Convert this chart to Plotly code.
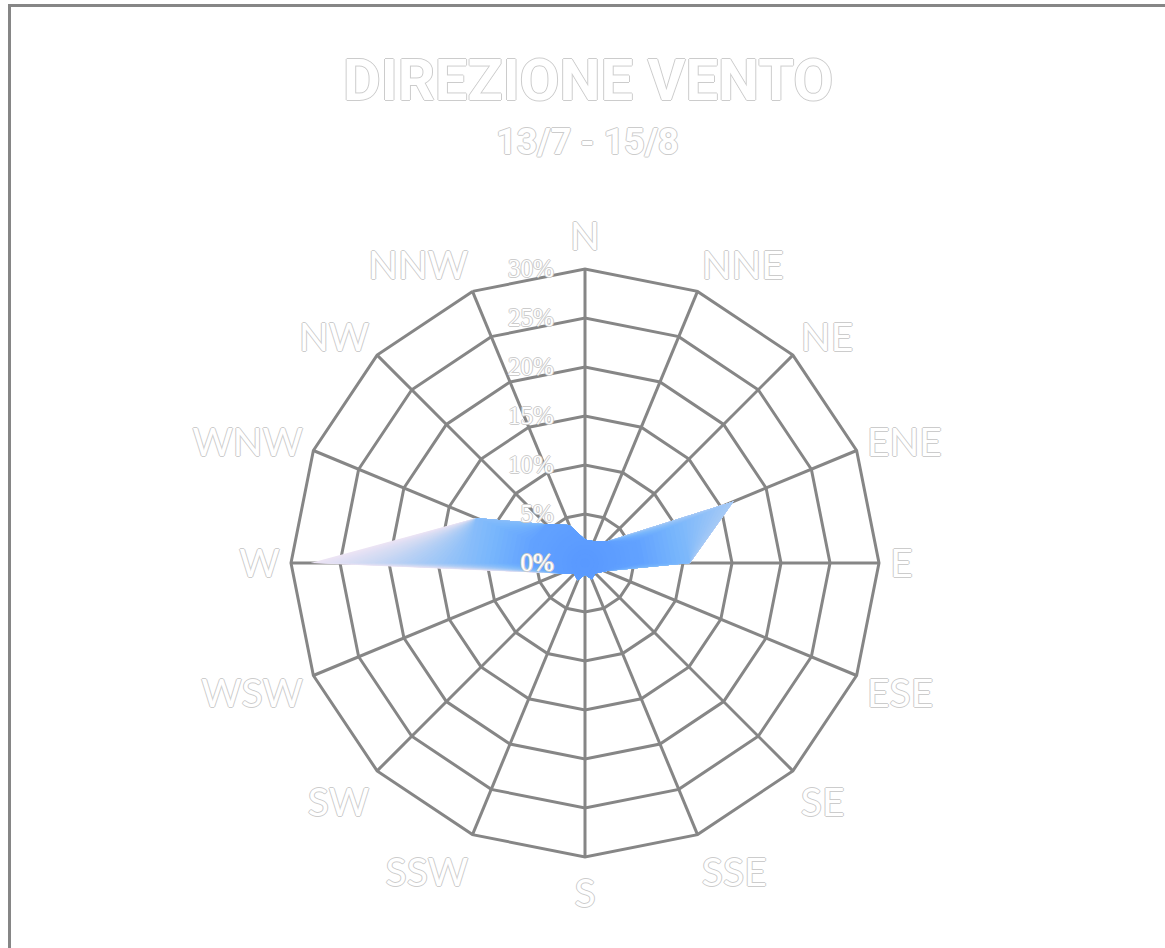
import plotly.graph_objects as go

# ---- data ----
directions = ["N", "NNE", "NE", "ENE", "E", "ESE", "SE", "SSE",
              "S", "SSW", "SW", "WSW", "W", "WNW", "NW", "NNW"]
frequency_pct = [2.4, 2.4, 3.1, 16.4, 10.7, 2.2, 1.5, 1.8,
                 1.2, 1.9, 1.6, 2.8, 28.0, 12.0, 5.6, 4.2]
radial_ticks = [0, 5, 10, 15, 20, 25, 30]
radial_ticklabels = ["0%", "5%", "10%", "15%", "20%", "25%", "30%"]
title_text = "DIREZIONE VENTO"
subtitle_text = "13/7 - 15/8"

GRID = "#868686"
OUTLINE = "-1px 0 #cccccc, 1px 0 #cccccc, 0 -1px #cccccc, 0 1px #cccccc"

# gradient colour stops by radius (in % units), rendered as stacked fills
stops = [(0.0, (88, 152, 255)), (6.0, (98, 162, 255)), (10.0, (120, 182, 252)),
         (16.0, (162, 200, 246)), (22.0, (204, 216, 243)), (28.0, (236, 228, 244))]


def colour_at(t):
    for (t0, c0), (t1, c1) in zip(stops[:-1], stops[1:]):
        if t <= t1:
            f = (t - t0) / (t1 - t0)
            c = [round(a + (b - a) * f) for a, b in zip(c0, c1)]
            return f"rgb({c[0]},{c[1]},{c[2]})"
    c = stops[-1][1]
    return f"rgb({c[0]},{c[1]},{c[2]})"


fig = go.Figure()
theta_closed = directions + [directions[0]]
top = max(frequency_pct)
n_layers = 60
for i in range(n_layers, 0, -1):
    limit = top * i / n_layers
    r = [min(v, limit) for v in frequency_pct]
    col = colour_at(limit)
    fig.add_trace(go.Scatterpolar(
        r=r + [r[0]], theta=theta_closed, mode="lines", fill="toself",
        fillcolor=col, line=dict(width=0, color=col),
        hoverinfo="skip", showlegend=False))

fig.update_layout(
    width=1165, height=948,
    margin=dict(l=0, r=0, t=0, b=0),
    paper_bgcolor="white",
    showlegend=False,
    polar=dict(
        domain=dict(x=[291 / 1165, 879 / 1165], y=[91 / 948, 679 / 948]),
        bgcolor="white",
        gridshape="linear",
        angularaxis=dict(
            type="category", categoryarray=directions,
            direction="clockwise", rotation=90,
            showline=True, linecolor=GRID, linewidth=3,
            showgrid=True, gridcolor=GRID, gridwidth=3,
            ticks="outside", ticklen=2, tickcolor="rgba(0,0,0,0)",
            tickfont=dict(family="Lato, Liberation Sans", size=39,
                          color="white", shadow=OUTLINE),
            layer="above traces",
        ),
        radialaxis=dict(
            range=[0, 30], tickvals=radial_ticks, ticktext=radial_ticklabels,
            angle=90, tickangle=90, side="counterclockwise",
            showline=False, showgrid=True, gridcolor=GRID, gridwidth=3,
            ticks="outside", ticklen=22, tickcolor="rgba(0,0,0,0)",
            tickfont=dict(family="Liberation Serif, Times New Roman", size=25,
                          color="white", shadow=OUTLINE),
            layer="above traces",
        ),
    ),
    shapes=[dict(type="rect", xref="paper", yref="paper",
                 x0=9.5 / 1165, x1=1.02, y0=-0.02, y1=1 - 5.5 / 948,
                 line=dict(color=GRID, width=3), fillcolor="rgba(0,0,0,0)",
                 layer="above")],
    annotations=[
        dict(text=title_text, xref="paper", yref="paper",
             x=587.5 / 1165, y=1 - 80 / 948, xanchor="center", yanchor="middle",
             showarrow=False,
             font=dict(family="Roboto", size=58, color="white", weight="bold",
                       shadow=OUTLINE)),
        dict(text=subtitle_text, xref="paper", yref="paper",
             x=587.5 / 1165, y=1 - 142 / 948, xanchor="center", yanchor="middle",
             showarrow=False,
             font=dict(family="Roboto", size=36, color="white", weight="bold",
                       shadow=OUTLINE)),
    ],
)

fig.write_html("out.html")
